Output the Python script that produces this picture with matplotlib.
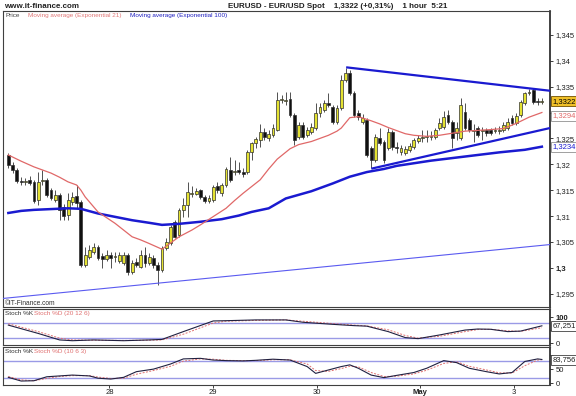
import matplotlib
matplotlib.use("Agg")
import matplotlib.pyplot as plt
import matplotlib.transforms as mtransforms

plt.rcParams['font.family'] = ['Liberation Sans', 'DejaVu Sans']

# ---------------- data ----------------
opens = [1.3218,1.3198,1.3189,1.3168,1.3166,1.3170,1.3166,1.3131,1.3168,1.3170,
         1.3150,1.3131,1.3140,1.3117,1.3102,1.3127,1.3139,1.3127,1.3005,1.3021,
         1.3030,1.3040,1.3023,1.3017,1.3025,1.3021,1.3013,1.3009,1.3025,1.2992,
         1.3011,1.3001,1.3025,1.3009,1.3019,1.3005,1.2996,1.3038,1.3048,1.3088,
         1.3063,1.3112,1.3121,1.3143,1.3142,1.3150,1.3137,1.3129,1.3131,1.3158,
         1.3144,1.3160,1.3189,1.3185,1.3189,1.3185,1.3185,1.3224,1.3241,1.3247,
         1.3262,1.3251,1.3256,1.3266,1.3324,1.3323,1.3326,1.3295,1.3253,1.3276,
         1.3256,1.3262,1.3270,1.3299,1.3305,1.3318,1.3311,1.3281,1.3309,1.3363,
         1.3376,1.3338,1.3299,1.3281,1.3285,1.3231,1.3208,1.3251,1.3243,1.3231,
         1.3262,1.3233,1.3224,1.3222,1.3227,1.3233,1.3245,1.3251,1.3252,1.3253,
         1.3253,1.3270,1.3272,1.3295,1.3281,1.3260,1.3251,1.3301,1.3285,1.3265,
         1.3270,1.3265,1.3266,1.3266,1.3264,1.3265,1.3266,1.3270,1.3289,1.3280,
         1.3295,1.3318,1.3338,1.3343,1.3322,1.3321]
closes = [1.3198,1.3189,1.3168,1.3166,1.3168,1.3164,1.3129,1.3166,1.3170,1.3140,
          1.3135,1.3140,1.3112,1.3100,1.3131,1.3137,1.3125,1.3005,1.3025,1.3034,
          1.3040,1.3019,1.3017,1.3025,1.3019,1.3023,1.3025,1.3025,1.2992,1.3009,
          1.3005,1.3025,1.3009,1.3021,1.3005,1.2996,1.3038,1.3050,1.3079,1.3059,
          1.3112,1.3121,1.3146,1.3145,1.3148,1.3137,1.3129,1.3135,1.3156,1.3150,
          1.3160,1.3191,1.3170,1.3187,1.3185,1.3181,1.3224,1.3241,1.3249,1.3262,
          1.3253,1.3258,1.3270,1.3324,1.3326,1.3325,1.3295,1.3247,1.3276,1.3253,
          1.3266,1.3272,1.3299,1.3311,1.3318,1.3314,1.3281,1.3309,1.3363,1.3376,
          1.3338,1.3295,1.3291,1.3289,1.3218,1.3208,1.3253,1.3241,1.3208,1.3262,
          1.3233,1.3231,1.3231,1.3229,1.3235,1.3247,1.3251,1.3253,1.3254,1.3255,
          1.3266,1.3280,1.3291,1.3281,1.3251,1.3270,1.3314,1.3270,1.3266,1.3267,
          1.3256,1.3267,1.3260,1.3260,1.3266,1.3267,1.3276,1.3281,1.3280,1.3293,
          1.3320,1.3338,1.3340,1.3320,1.3321,1.3322]
highs = [1.3222,1.3204,1.3193,1.3175,1.3173,1.3177,1.3170,1.3185,1.3189,1.3173,
         1.3154,1.3150,1.3144,1.3123,1.3144,1.3146,1.3160,1.3131,1.3040,1.3044,
         1.3048,1.3044,1.3028,1.3034,1.3030,1.3030,1.3030,1.3030,1.3028,1.3015,
         1.3019,1.3034,1.3040,1.3028,1.3025,1.3011,1.3042,1.3057,1.3083,1.3092,
         1.3115,1.3135,1.3166,1.3158,1.3154,1.3152,1.3140,1.3140,1.3160,1.3166,
         1.3164,1.3195,1.3214,1.3208,1.3204,1.3193,1.3227,1.3243,1.3253,1.3278,
         1.3270,1.3266,1.3278,1.3340,1.3334,1.3340,1.3340,1.3299,1.3281,1.3281,
         1.3272,1.3280,1.3318,1.3318,1.3324,1.3338,1.3314,1.3314,1.3373,1.3386,
         1.3382,1.3342,1.3305,1.3297,1.3289,1.3235,1.3258,1.3270,1.3247,1.3270,
         1.3266,1.3243,1.3237,1.3235,1.3241,1.3251,1.3256,1.3266,1.3266,1.3264,
         1.3270,1.3289,1.3303,1.3305,1.3285,1.3281,1.3328,1.3318,1.3289,1.3278,
         1.3274,1.3272,1.3270,1.3270,1.3272,1.3274,1.3281,1.3289,1.3295,1.3299,
         1.3324,1.3340,1.3345,1.3347,1.3328,1.3328]
lows = [1.3193,1.3183,1.3164,1.3160,1.3160,1.3160,1.3125,1.3121,1.3160,1.3137,
        1.3131,1.3127,1.3092,1.3092,1.3092,1.3121,1.3115,1.3001,1.3001,1.3017,
        1.3027,1.3015,1.2999,1.3013,1.2999,1.3011,1.3009,1.3005,1.2986,1.2988,
        1.3001,1.2999,1.3001,1.3005,1.2999,1.2967,1.2992,1.3034,1.3044,1.3057,
        1.3059,1.3098,1.3098,1.3137,1.3140,1.3133,1.3125,1.3125,1.3127,1.3144,
        1.3139,1.3156,1.3166,1.3179,1.3181,1.3175,1.3181,1.3208,1.3231,1.3233,
        1.3247,1.3245,1.3253,1.3264,1.3318,1.3314,1.3291,1.3237,1.3249,1.3249,
        1.3253,1.3258,1.3266,1.3291,1.3301,1.3311,1.3278,1.3278,1.3305,1.3359,
        1.3334,1.3291,1.3285,1.3278,1.3214,1.3193,1.3204,1.3237,1.3202,1.3227,
        1.3227,1.3222,1.3218,1.3218,1.3224,1.3229,1.3241,1.3243,1.3243,1.3247,
        1.3249,1.3266,1.3268,1.3278,1.3231,1.3247,1.3247,1.3266,1.3262,1.3243,
        1.3253,1.3247,1.3255,1.3256,1.3260,1.3258,1.3262,1.3266,1.3276,1.3276,
        1.3291,1.3314,1.3334,1.3316,1.3314,1.3316]

ema21_idx = [0, 3, 6, 8, 10, 12, 14, 16, 17, 18, 21, 23, 25, 27, 29, 31, 33, 36, 38, 40,
             43, 45, 48, 51, 53, 55, 57, 59, 61, 63, 66, 68, 71, 73, 75, 77, 78, 79, 80, 82,
             85, 87, 89, 91, 93, 95, 98, 101, 104, 107, 111, 113, 116, 119, 121, 122, 124, 125]
ema21_val = [1.3218, 1.3206, 1.3195, 1.3189, 1.3183, 1.3175, 1.3166, 1.3160, 1.3150, 1.3137,
             1.3108, 1.3097, 1.3086, 1.3073, 1.3060, 1.3054, 1.3047, 1.3036, 1.3048, 1.3060,
             1.3073, 1.3083, 1.3099, 1.3115, 1.3130, 1.3144, 1.3157, 1.3170, 1.3191, 1.3210,
             1.3230, 1.3238, 1.3244, 1.3250, 1.3256, 1.3264, 1.3270, 1.3280, 1.3290, 1.3292,
             1.3284, 1.3278, 1.3271, 1.3265, 1.3259, 1.3256, 1.3254, 1.3256, 1.3260, 1.3264,
             1.3266, 1.3267, 1.3269, 1.3279, 1.3287, 1.3291, 1.3297, 1.3300]

ema100_idx = [0, 3, 6, 14, 17, 21, 29, 33, 36, 40, 45, 50, 54, 57, 61, 65, 68, 71, 73, 76,
              80, 84, 88, 91, 95, 99, 103, 110, 115, 121, 125]
ema100_val = [1.3106, 1.3110, 1.3112, 1.3115, 1.3114, 1.3105, 1.3092, 1.3087, 1.3083, 1.3085,
              1.3089, 1.3094, 1.3101, 1.3108, 1.3115, 1.3134, 1.3141, 1.3148, 1.3154, 1.3163,
              1.3176, 1.3185, 1.3191, 1.3197, 1.3202, 1.3207, 1.3211, 1.3218, 1.3223, 1.3228,
              1.3234]

# trend lines (start/end bar index, price)
trend_top = ([79.4, 126.9], [1.3387, 1.3342])
trend_low = ([85.3, 126.9], [1.3192, 1.3270])
trend_long = ([-1.2, 126.9], [1.2941, 1.3045])

stoch1_idx = [0, 7, 12, 15, 20, 27, 33, 36, 41, 48, 51, 58, 65, 69, 76, 81, 84, 89, 93, 96,
              101, 107, 110, 113, 117, 120, 125]
stoch1_k = [70, 38, 13, 10, 13, 10, 13, 15, 45, 86, 87, 90, 90, 81, 73, 68, 66, 45, 22, 18,
            32, 51, 55, 54, 45, 47, 67.3]
stoch1_d = [75, 45, 20, 13, 12, 11, 12, 13, 35, 78, 85, 88, 90, 85, 76, 70, 67, 52, 30, 20,
            27, 45, 53, 54, 48, 46, 60]

stoch2_idx = [0, 3, 6, 9, 12, 15, 19, 21, 24, 27, 30, 34, 38, 41, 45, 48, 51, 55, 58, 62,
              66, 70, 72, 75, 78, 80, 82, 85, 88, 91, 95, 98, 102, 105, 108, 112, 115, 118,
              121, 124, 125]
stoch2_k = [21, 8, 9, 23, 26, 29, 26, 18, 15, 21, 41, 50, 68, 86, 88, 82, 80, 79, 81, 85,
            82, 59, 35, 47, 59, 65, 53, 29, 20, 28, 38, 53, 80, 73, 53, 41, 33, 38, 77, 86, 84]
stoch2_d = [24, 12, 9, 17, 24, 27, 27, 22, 17, 18, 32, 45, 60, 78, 86, 85, 81, 80, 80, 83,
            83, 68, 45, 42, 52, 60, 58, 38, 24, 25, 33, 46, 70, 76, 60, 47, 37, 36, 62, 82, 83]

date_pos = [23.7, 47.9, 72.3, 96.4, 118.4]
date_labels = ['28', '29', '30', 'May', '3']

price_ticks = [1.295, 1.30, 1.305, 1.31, 1.315, 1.32, 1.325, 1.33, 1.335, 1.34, 1.345]
price_labels = ['1,295', '1,3', '1,305', '1,31', '1,315', '1,32', '1,325', '', '1,335', '1,34', '1,345']

# ---------------- figure ----------------
W, H = 576, 396
fig = plt.figure(figsize=(W / 100, H / 100), dpi=100)
fig.patch.set_facecolor('white')

def frac(x0, y0, x1, y1):
    return [x0 / W, 1 - y1 / H, (x1 - x0) / W, (y1 - y0) / H]

ax = fig.add_axes(frac(3, 11, 550, 306.7))
ax1 = fig.add_axes(frac(3, 309, 550, 345))
ax2 = fig.add_axes(frac(3, 347, 550, 385))

XL = (-1.25, 126.9)
FS = 5.5
for a in (ax, ax1, ax2):
    a.set_xlim(*XL)
    for s in a.spines.values():
        s.set_color('#404040')
        s.set_linewidth(0.8)
    a.spines['right'].set_linewidth(1.2)
    a.spines['right'].set_color('#202020')
    a.tick_params(axis='y', left=False, labelleft=False, right=True, labelright=True,
                  direction='out', length=2.5, width=0.6, pad=1.5, labelsize=FS,
                  colors='#202020')
    a.tick_params(axis='x', bottom=False, labelbottom=False)

# ---- main price panel ----
ax.set_ylim(1.2925, 1.3496)
idx = list(range(len(opens)))
up_col, dn_col = '#e4e232', '#101010'
ax.vlines(idx, lows, highs, color='#505050', lw=0.7, zorder=3)
bottoms = [min(o, c) for o, c in zip(opens, closes)]
heights = [max(abs(c - o), 0.00008) for o, c in zip(opens, closes)]
cols = [up_col if c >= o else dn_col for o, c in zip(opens, closes)]
ax.bar(idx, heights, bottom=bottoms, width=0.66, color=cols, edgecolor='#303030',
       linewidth=0.5, zorder=4)

ax.plot(ema100_idx, ema100_val, color='#1a1ad0', lw=1.8, zorder=5, solid_joinstyle='round')
ax.plot(ema21_idx, ema21_val, color='#e06868', lw=0.9, zorder=5, solid_joinstyle='round')
ax.plot(*trend_top, color='#1a1ad0', lw=1.6, zorder=5)
ax.plot(*trend_low, color='#1a1ad0', lw=1.6, zorder=5)
ax.plot(*trend_long, color='#5a5af0', lw=0.8, zorder=5)

ax.set_yticks(price_ticks)
ax.set_yticklabels(price_labels)
for t in ax.get_yticklabels():
    if t.get_text() == '1,3':
        t.set_fontweight('bold')

btr = mtransforms.blended_transform_factory(ax.transAxes, ax.transData)
ax.text(1.004, 1.3322, '1,3322', transform=btr, fontsize=FS, va='center', ha='left',
        color='black', zorder=10, clip_on=False,
        bbox=dict(boxstyle='square,pad=0.2', fc='#f0c028', ec='#705000', lw=0.6))
ax.text(1.004, 1.3294, '1,3294', transform=btr, fontsize=FS, va='center', ha='left',
        color='#e06868', zorder=10, clip_on=False,
        bbox=dict(boxstyle='square,pad=0.2', fc='white', ec='#909090', lw=0.6))
ax.text(1.004, 1.3234, '1,3234', transform=btr, fontsize=FS, va='center', ha='left',
        color='#1a1ad0', zorder=10, clip_on=False,
        bbox=dict(boxstyle='square,pad=0.2', fc='white', ec='#909090', lw=0.6))

ax.text(0.004, 0.986, 'Price', transform=ax.transAxes, fontsize=4.6, va='center',
        ha='left', color='#404040')
ax.text(0.045, 0.986, 'Moving average (Exponential 21)', transform=ax.transAxes,
        fontsize=4.6, va='center', ha='left', color='#e07878')
ax.text(0.233, 0.986, 'Moving average (Exponential 100)', transform=ax.transAxes,
        fontsize=4.6, va='center', ha='left', color='#2020c0')
ax.text(0.004, 0.012, '©IT-Finance.com', transform=ax.transAxes, fontsize=4.8,
        va='center', ha='left', color='#303030')

# ---- stochastic panels ----
line_col = '#9a9ae6'
ax1.set_ylim(-6.5, 132)
ax1.axhline(20, color=line_col, lw=1.0, zorder=1)
ax1.axhline(80, color=line_col, lw=1.0, zorder=1)
ax1.plot(stoch1_idx, stoch1_d, color='#e07070', lw=0.7, ls=(0, (2, 1.5)), zorder=3)
ax1.plot(stoch1_idx, stoch1_k, color='#202040', lw=0.8, zorder=4)
ax1.set_yticks([0, 50, 100])
ax1.set_yticklabels(['0', '', '100'])
ax1.get_yticklabels()[2].set_fontweight('bold')
ax1.text(0.004, 0.88, 'Stoch %K', transform=ax1.transAxes, fontsize=4.6, va='center',
         ha='left', color='#303030')
ax1.text(0.057, 0.88, 'Stoch %D (20 12 6)', transform=ax1.transAxes, fontsize=4.6,
         va='center', ha='left', color='#e07070')
b1 = mtransforms.blended_transform_factory(ax1.transAxes, ax1.transData)
ax1.text(1.004, 67.25, '67,251', transform=b1, fontsize=FS, va='center', ha='left',
         color='#202020', zorder=10, clip_on=False,
         bbox=dict(boxstyle='square,pad=0.2', fc='white', ec='#404040', lw=0.6))

ax2.set_ylim(-6, 128)
ax2.axhline(20, color=line_col, lw=1.0, zorder=1)
ax2.axhline(80, color=line_col, lw=1.0, zorder=1)
ax2.plot(stoch2_idx, stoch2_d, color='#e07070', lw=0.7, ls=(0, (2, 1.5)), zorder=3)
ax2.plot(stoch2_idx, stoch2_k, color='#202040', lw=0.8, zorder=4)
ax2.set_yticks([0, 50, 100])
ax2.set_yticklabels(['0', '50', ''])
ax2.text(0.004, 0.87, 'Stoch %K', transform=ax2.transAxes, fontsize=4.6, va='center',
         ha='left', color='#303030')
ax2.text(0.057, 0.87, 'Stoch %D (10 6 3)', transform=ax2.transAxes, fontsize=4.6,
         va='center', ha='left', color='#e07070')
b2 = mtransforms.blended_transform_factory(ax2.transAxes, ax2.transData)
ax2.text(1.004, 83.756, '83,756', transform=b2, fontsize=FS, va='center', ha='left',
         color='#202020', zorder=10, clip_on=False,
         bbox=dict(boxstyle='square,pad=0.2', fc='white', ec='#404040', lw=0.6))

ax2.set_xticks(date_pos)
ax2.set_xticklabels(date_labels)
ax2.tick_params(axis='x', bottom=True, labelbottom=True, direction='out', length=2,
                width=0.6, pad=1, labelsize=FS, colors='#202020')
for t in ax2.get_xticklabels():
    if t.get_text() == 'May':
        t.set_fontweight('bold')

# ---- header ----
fig.text(4 / W, 1 - 6 / H, 'www.it-finance.com', fontsize=5.8, fontweight='bold',
         va='center', ha='left', color='#202020')
fig.text(228 / W, 1 - 6 / H, 'EURUSD - EUR/USD Spot    1,3322 (+0,31%)    1 hour  5:21',
         fontsize=5.8, fontweight='bold', va='center', ha='left', color='#202020')

fig.savefig('out.png', dpi=100, facecolor='white')
